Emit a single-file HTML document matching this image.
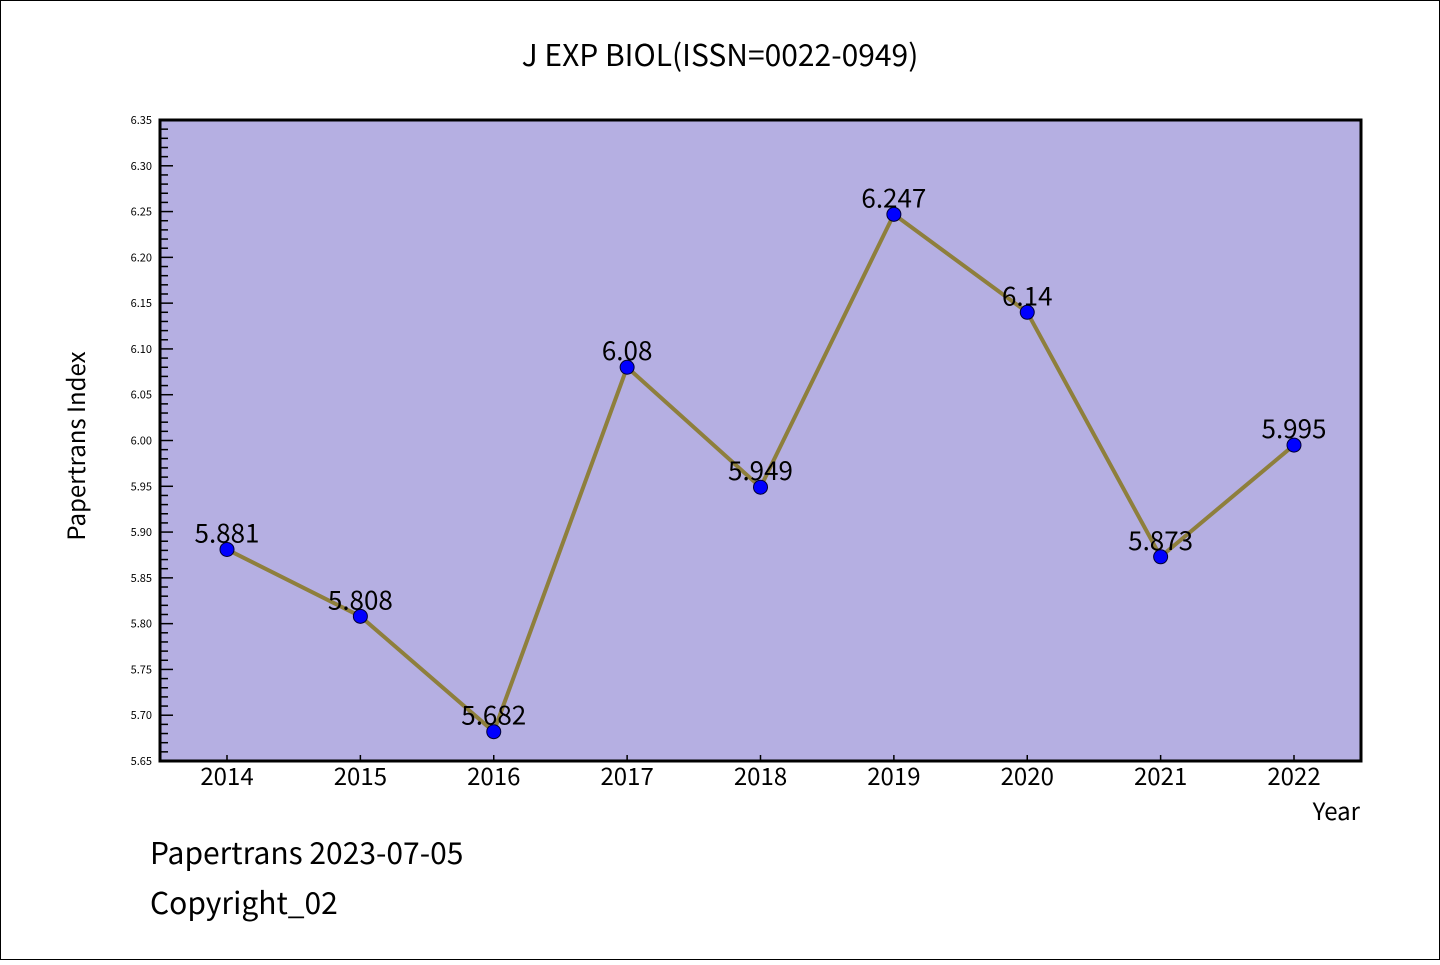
<!DOCTYPE html>
<html><head><meta charset="utf-8"><style>
body{margin:0;background:#fff}
svg text{font-family:"WenQuanYi Zen Hei","Noto Sans CJK SC","Liberation Sans",sans-serif}
</style></head><body>
<svg id="c" width="1440" height="960" xmlns="http://www.w3.org/2000/svg">
<rect x="0.5" y="0.5" width="1439" height="959" fill="#fff" stroke="#000"/>
<text x="720" y="66" font-size="30" text-anchor="middle">J EXP BIOL(ISSN=0022-0949)</text>
<rect x="160" y="120" width="1201" height="641" fill="#b5afe2"/>
<g id="ticks"></g>
<g id="series"></g>
<rect x="160" y="120" width="1201" height="641" fill="none" stroke="#000" stroke-width="3"/>
<text transform="translate(85,446) rotate(-90)" font-size="24" text-anchor="middle">Papertrans Index</text>
<text x="1360" y="820" font-size="24" text-anchor="end">Year</text>
<text x="150" y="864" font-size="30">Papertrans 2023-07-05</text>
<text x="150" y="914" font-size="30">Copyright_02</text>
</svg>
<script>
const years=["2014","2015","2016","2017","2018","2019","2020","2021","2022"];
const values=[5.881,5.808,5.682,6.08,5.949,6.247,6.14,5.873,5.995];
const valueLabels=["5.881","5.808","5.682","6.08","5.949","6.247","6.14","5.873","5.995"];
const yMin=5.65,yMax=6.35;
const NS="http://www.w3.org/2000/svg";
function xs(i){return 227+i*(1294-227)/(years.length-1);}
function ys(v){return 761-(v-yMin)/(yMax-yMin)*641;}
function mk(t,a,p){const e=document.createElementNS(NS,t);for(const k in a)e.setAttribute(k,a[k]);p.appendChild(e);return e;}
const tg=document.getElementById('ticks');
for(let k=0;k<=70;k++){
  const v=yMin+k*0.01,y=ys(v),maj=k%5===0;
  const l=mk('line',{x1:160,x2:160+(maj?13:8),y1:y,y2:y,stroke:'#000','stroke-width':1.5},tg);
  
  
  if(maj){
    const t=mk('text',{x:152,y:y+4,'font-size':11,'text-anchor':'end'},tg);
    t.textContent=v.toFixed(2);
    
    
  }
}
years.forEach((yr,i)=>{
  const l=mk('line',{x1:xs(i),x2:xs(i),y1:761,y2:755,stroke:'#000','stroke-width':1.5},tg);
  
  
  const t=mk('text',{x:xs(i),y:785,'font-size':24,'text-anchor':'middle'},tg);
  t.textContent=yr;
  
  
});
const sg=document.getElementById('series');
const pl=mk('polyline',{points:values.map((v,i)=>xs(i)+','+ys(v)).join(' '),fill:'none',stroke:'#8e7f3c','stroke-width':4},sg);


values.forEach((v,i)=>{
  const c=mk('circle',{cx:xs(i),cy:ys(v),r:7,fill:'#0000ff',stroke:'#000033','stroke-width':1},sg);
  
  
});
values.forEach((v,i)=>{
  const t=mk('text',{x:xs(i),y:ys(v)-7,'font-size':26,'text-anchor':'middle'},sg);
  t.textContent=valueLabels[i];
  
  
});
</script>
</body></html>
